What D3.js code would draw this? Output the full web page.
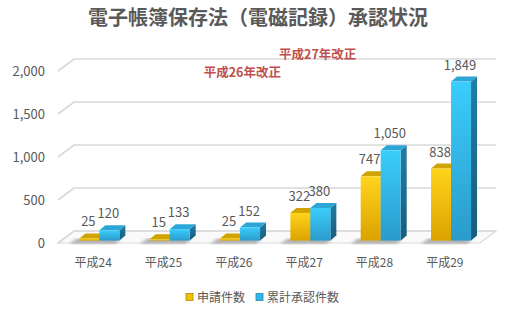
<!DOCTYPE html>
<html>
<head>
<meta charset="utf-8">
<script src="https://cdn.jsdelivr.net/npm/d3@7"></script>
<style>
  body { margin: 0; background: #fff; }
  svg { display: block; font-family: "Noto Sans CJK JP", "Noto Sans", sans-serif; }
</style>
</head>
<body>
<svg id="chart"></svg>
<script>
const categories = ["平成24", "平成25", "平成26", "平成27", "平成28", "平成29"];
const applications = [25, 15, 25, 322, 747, 838];
const approvals = [120, 133, 152, 380, 1050, 1849];
const seriesNames = ["申請件数", "累計承認件数"];
const yTicks = [0, 500, 1000, 1500, 2000];
const notes = ["平成26年改正", "平成27年改正"];
const titleText = "電子帳簿保存法（電磁記録）承認状況";

const width = 510, height = 310;
const fmt = d3.format(",");
const depth = {dx: 16, dy: -12};     // full depth of the 3d box
const barDepth = {dx: 6, dy: -5};    // depth of each bar
const barT = 0.2;                    // where bar fronts sit in the box

const svg = d3.select("#chart")
  .attr("width", width).attr("height", height)
  .attr("viewBox", [0, 0, width, height]);

const defs = svg.append("defs");
function grad(id, c0, c1, horiz) {
  const g = defs.append("linearGradient").attr("id", id)
    .attr("x1", 0).attr("y1", 0).attr("x2", horiz ? 1 : 0).attr("y2", horiz ? 0 : 1);
  g.append("stop").attr("offset", "0%").attr("stop-color", c0);
  g.append("stop").attr("offset", "100%").attr("stop-color", c1);
}
grad("goldFront", "#ffd41c", "#dba200");
grad("goldSide", "#b88c00", "#8f6a00");
grad("blueFront", "#3acdfc", "#2a9bcb");
grad("blueSide", "#217da5", "#185c7c");
defs.append("filter").attr("id", "blur")
  .append("feGaussianBlur").attr("stdDeviation", 1.8);

const colours = [
  {front: "url(#goldFront)", side: "url(#goldSide)", top: "#d0a300", key: "#f2c200"},
  {front: "url(#blueFront)", side: "url(#blueSide)", top: "#2ca6d6", key: "#30b7e8"}
];

const x = d3.scaleBand().domain(categories).range([58, 480]);
const y = d3.scaleLinear().domain([0, 2000]).range([243, 71]);

// title
svg.append("text")
  .attr("x", 258).attr("y", 25)
  .attr("text-anchor", "middle")
  .attr("font-size", 20).attr("font-weight", "bold")
  .attr("fill", "#595959")
  .text(titleText);

// floor
const x0 = x.range()[0], x1 = x.range()[1];
svg.append("path")
  .attr("d", `M${x0},${y(0)}L${x1},${y(0)}L${x1 + depth.dx},${y(0) + depth.dy}L${x0 + depth.dx},${y(0) + depth.dy}Z`)
  .attr("fill", "#fafafa").attr("stroke", "#d9d9d9").attr("stroke-width", 1.2);

// gridlines: left wall + back wall
const grid = svg.append("g").attr("fill", "none").attr("stroke", "#d9d9d9").attr("stroke-width", 1.6);
yTicks.forEach(t => {
  grid.append("path")
    .attr("d", `M${x0},${y(t)}L${x0 + depth.dx},${y(t) + depth.dy}L${x1 + depth.dx},${y(t) + depth.dy}`);
});

// y axis labels
svg.append("g")
  .selectAll("text").data(yTicks).join("text")
  .attr("x", 45).attr("y", d => y(d) + 4.5)
  .attr("text-anchor", "end")
  .attr("font-size", 13).attr("fill", "#595959")
  .text(d => fmt(d));

// x axis labels
svg.append("g")
  .selectAll("text").data(categories).join("text")
  .attr("x", d => x(d) + x.bandwidth() / 2).attr("y", 267)
  .attr("text-anchor", "middle")
  .attr("font-size", 12).attr("fill", "#595959")
  .text(d => d);

// bars
const barW = 20;
const base = y(0) + depth.dy * barT;
const shift = depth.dx * barT;
function barY(v) { return y(v) + depth.dy * barT; }

const series = [applications, approvals];
const barsG = svg.append("g");

categories.forEach((c, i) => {
  const left = x(c) + x.bandwidth() / 2 - barW + 3 + shift;
  // shadow on the floor
  barsG.append("path")
    .attr("d", `M${left - 10},${base + 3}L${left + 2 * barW - 4},${base + 3}L${left + 2 * barW + 2},${base - 2}L${left - 2},${base - 2}Z`)
    .attr("fill", "#555").attr("opacity", 0.45).attr("filter", "url(#blur)");

  series.forEach((s, k) => {
    const v = s[i];
    const bx = left + k * barW, top = barY(v), col = colours[k];
    const g = barsG.append("g");
    g.append("path")
      .attr("d", `M${bx + barW},${top}L${bx + barW + barDepth.dx},${top + barDepth.dy}L${bx + barW + barDepth.dx},${base + barDepth.dy}L${bx + barW},${base}Z`)
      .attr("fill", col.side);
    g.append("path")
      .attr("d", `M${bx},${top}L${bx + barDepth.dx},${top + barDepth.dy}L${bx + barW + barDepth.dx},${top + barDepth.dy}L${bx + barW},${top}Z`)
      .attr("fill", col.top);
    g.append("rect")
      .attr("x", bx).attr("y", top)
      .attr("width", barW).attr("height", Math.max(0.5, base - top))
      .attr("fill", col.front);
  });
});

// value labels
const labelsG = svg.append("g").attr("font-size", 13).attr("fill", "#595959").attr("text-anchor", "middle");
categories.forEach((c, i) => {
  const left = x(c) + x.bandwidth() / 2 - barW + 3 + shift;
  series.forEach((s, k) => {
    labelsG.append("text")
      .attr("x", left + k * barW + barW / 2 - 1)
      .attr("y", barY(s[i]) - 12)
      .text(fmt(s[i]));
  });
});

// revision notes
const noteG = svg.append("g").attr("font-size", 12.5).attr("font-weight", "bold").attr("fill", "#c0504d");
noteG.append("text")
  .attr("x", x("平成26") + 5).attr("y", y(1925))
  .text(notes[0]);
noteG.append("text")
  .attr("x", x("平成27") + 10).attr("y", y(2135))
  .text(notes[1]);

// legend
const legend = svg.append("g").attr("font-size", 12).attr("fill", "#595959");
const legendX = [186, 256];
seriesNames.forEach((n, k) => {
  const g = legend.append("g").attr("transform", `translate(${legendX[k]},297)`);
  g.append("rect").attr("x", 0).attr("y", -3.5).attr("width", 7).attr("height", 7)
    .attr("fill", colours[k].key).attr("stroke", k ? "#2286b0" : "#b58a00").attr("stroke-width", 0.8);
  g.append("text").attr("x", 11).attr("y", 4.5).text(n);
});
</script>
</body>
</html>
